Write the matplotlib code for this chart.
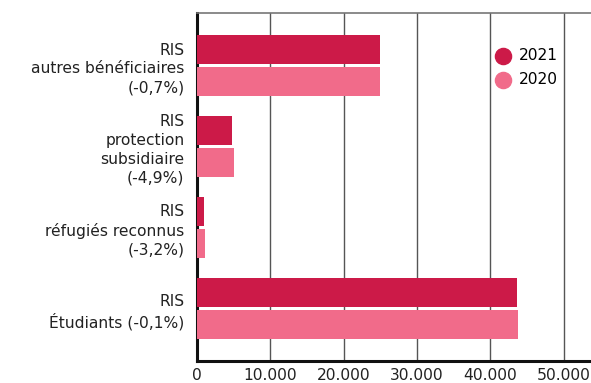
import matplotlib.pyplot as plt
import numpy as np
from matplotlib.ticker import FuncFormatter

categories = ["RIS\nautres bénéficiaires\n(-0,7%)",
              "RIS\nprotection\nsubsidiaire\n(-4,9%)",
              "RIS\nréfugiés reconnus\n(-3,2%)",
              "RIS\nÉtudiants (-0,1%)"]
values_2021 = [24950, 4750, 950, 43650]
values_2020 = [25000, 4990, 1080, 43700]
xticks = [0, 10000, 20000, 30000, 40000, 50000]

c2021 = '#cc1a48'
c2020 = '#f16b8a'

plt.rcParams['font.family'] = ['DejaVu Sans']

fig = plt.figure(figsize=(5.91, 3.83), dpi=100)
ax = fig.add_axes([197 / 591, 22 / 383, 1 - 197 / 591, 348 / 383])

y = np.arange(len(categories))
h = 0.36
ax.barh(y - 0.2, values_2021, height=h, color=c2021, zorder=3)
ax.barh(y + 0.2, values_2020, height=h, color=c2020, zorder=3)

ax.set_xlim(0, 53700)
ax.set_ylim(3.65, -0.65)
ax.set_yticks(y)
ax.set_yticklabels(categories, fontsize=11.6, color='#222222', linespacing=1.3)
ax.set_xticks(xticks)
ax.xaxis.set_major_formatter(FuncFormatter(lambda v, p: f"{int(v):,}".replace(',', '.')))
ax.tick_params(axis='both', length=0, labelsize=11.2, colors='#222222')
ax.tick_params(axis='y', pad=9)
ax.tick_params(axis='x', pad=5)

for xv in xticks[1:]:
    ax.axvline(xv, color='#555555', lw=1, zorder=1)

ax.spines['right'].set_visible(False)
ax.spines['top'].set_color('#777777')
ax.spines['top'].set_linewidth(1.2)
ax.spines['left'].set_linewidth(2.2)
ax.spines['bottom'].set_linewidth(2.2)
ax.spines['left'].set_color('#111111')
ax.spines['bottom'].set_color('#111111')

ax.scatter([], [], s=135, color=c2021, label='2021')
ax.scatter([], [], s=135, color=c2020, label='2020')
ax.legend(loc='upper left', bbox_to_anchor=(0.73, 0.93), frameon=True, facecolor='white',
          edgecolor='none', framealpha=1, fontsize=11.2, handletextpad=0.5,
          labelspacing=0.55, borderpad=0.2, handlelength=1.0)

fig.savefig('out.png', dpi=100)
